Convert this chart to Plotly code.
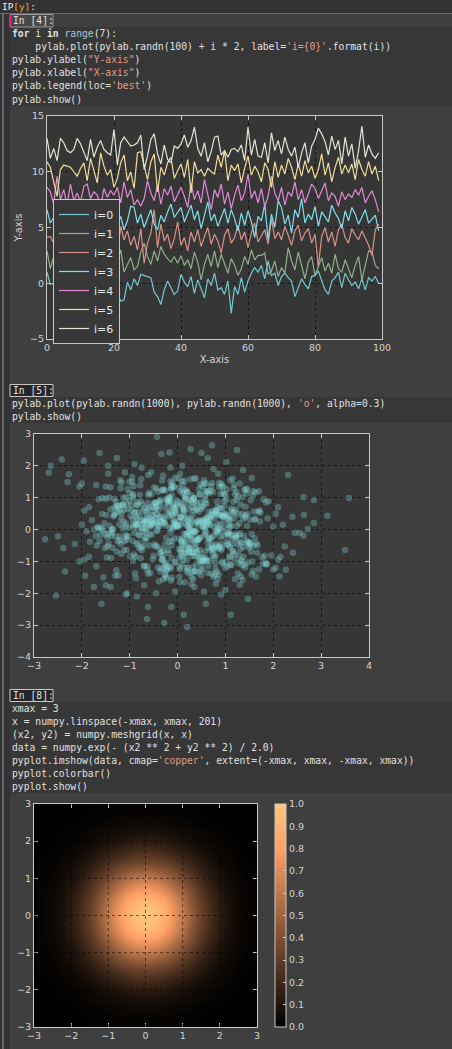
import plotly.graph_objects as go

W, H = 452, 1049

# ---------------- cell 1: seven noisy lines ----------------
line_labels = ['i=0', 'i=1', 'i=2', 'i=3', 'i=4', 'i=5', 'i=6']
line_colors = ['#74c8d0', '#8fb08a', '#d9918a', '#7ee0ea', '#e28ad6', '#f2dc9a', '#e4e4d4']

line_i0 = [1.0, -0.1, 0.0, 0.6, -0.8, 0.3, 1.2, -0.4, 0.5, -1.1,
           0.2, 0.9, -0.3, -1.4, 0.6, 0.1, -0.7, 1.5, 0.3, -0.5,
           0.8, -0.9, -1.6, -1.5, 0.1, -0.6, 0.4, -0.2, 0.8, 0.7,
           0.6, 0.5, -0.8, -1.2, -1.9, -0.6, 0.2, -0.4, -1.0, -0.7,
           0.8, 0.1, -0.3, 0.6, -0.9, 0.3, -0.5, -1.3, 0.4, -0.2,
           0.9, -0.6, -0.4, -1.0, 0.2, -2.7, -0.3, -1.0, 0.5, -0.8,
           0.2, 0.9, 1.4, 1.0, 1.6, 0.4, 2.0, 0.7, 0.9, -0.2,
           0.6, 0.9, 0.5, 0.2, -1.2, -0.3, 0.4, -0.1, -0.5, 0.6,
           0.7, 1.1, 0.3, -0.6, -1.0, 0.2, 0.5, 1.0, -0.4, 0.9,
           0.3, -0.2, 0.1, -0.5, 0.4, -0.6, 0.5, 0.2, 0.6, 0.0]
line_i1 = [2.9, 1.3, 2.4, 1.8, 3.1, 1.6, 2.2, 0.9, 2.7, 1.5,
           3.0, 2.1, 1.2, 2.6, 1.9, 0.8, 2.5, 3.3, 1.4, 0.6,
           1.1, 2.0, 3.0, 1.0, 1.6, 2.3, 1.2, 1.5, 2.8, 3.6,
           2.4, 1.7, 2.9, 2.0, 3.3, 2.6, 2.2, 1.9, 2.4, 1.8,
           2.5, 1.6, 2.1, 1.3, 2.8, 1.9, 0.3, 1.7, 2.6, 1.5,
           2.9, 1.4, 2.6, 1.8, 0.9, 2.2, 1.6, 0.7, 1.3, 2.4,
           1.7, 3.0, 2.1, 2.5, 2.5, 2.7, 0.8, 1.1, 2.0, 0.6,
           1.4, 0.9, 3.2, 2.0, 1.2, 2.8, 1.5, 0.4, 1.9, 2.4,
           0.7, 1.6, 2.3, 1.1, 1.8, 0.9, 2.6, 1.3, 1.0, 2.1,
           1.2, 0.5, 1.6, 2.4, 0.3, 1.7, 2.9, 2.8, 1.6, 1.3]
line_i2 = [4.1, 4.2, 3.6, 4.9, 3.3, 5.0, 2.8, 4.4, 3.7, 5.2,
           4.0, 3.1, 4.6, 3.8, 2.9, 4.5, 5.4, 3.5, 4.8, 3.2,
           4.3, 2.6, 5.1, 3.9, 4.7, 3.4, 4.2, 3.0, 4.9, 1.8,
           3.6, 4.5, 6.6, 3.2, 5.3, 3.8, 4.4, 3.1, 4.0, 5.5,
           3.4, 4.1, 2.9, 4.6, 3.7, 4.8, 3.3, 4.2, 5.0, 3.5,
           4.4, 3.8, 2.7, 4.3, 4.9, 3.6, 4.1, 5.2, 3.9, 4.6,
           3.2, 4.5, 5.4, 3.7, 4.2, 4.8, 3.5, 5.8, 4.0, 4.6,
           3.9, 5.1, 4.3, 3.4, 4.7, 5.2, 3.8, 4.5, 4.9, 3.6,
           4.4, 1.5, 4.2, 5.0, 3.7, 4.6, 3.3, 4.8, 5.3, 4.1,
           3.6, 4.9, 4.3, 3.9, 4.7, 4.0, 3.4, 2.5, 4.8, 5.3]
line_i3 = [6.6, 5.4, 5.9, 6.8, 5.1, 6.3, 7.2, 5.6, 6.1, 4.9,
           6.5, 5.8, 7.0, 6.2, 5.3, 6.9, 5.7, 4.6, 6.4, 5.9,
           6.7, 5.2, 6.0, 4.8, 5.6, 6.9, 6.8, 5.4, 6.2, 5.0,
           5.8, 6.6, 5.3, 4.8, 6.1, 5.5, 6.4, 7.1, 5.9, 6.3,
           6.8, 5.5, 6.2, 7.0, 5.7, 6.5, 4.9, 6.0, 7.3, 5.6,
           6.2, 5.1, 5.9, 6.7, 5.4, 6.6, 5.8, 4.7, 6.3, 5.2,
           6.5, 5.5, 4.1, 6.0, 5.6, 7.1, 3.9, 6.2, 5.0, 7.4,
           6.8, 5.3, 6.1, 4.5, 6.6, 5.9, 7.6, 5.4, 6.2, 5.7,
           6.9, 5.1, 6.4, 6.0, 5.5, 7.0, 6.3, 5.8, 4.9, 6.5,
           5.6, 6.8, 6.2, 5.3, 5.9, 6.6, 5.4, 5.8, 6.1, 4.7]
line_i4 = [8.6, 8.2, 7.1, 9.6, 7.5, 8.4, 7.0, 8.9, 7.4, 8.1,
           7.3, 8.7, 8.9, 7.6, 8.2, 7.9, 6.8, 8.5, 7.7, 8.3,
           7.9, 8.6, 7.2, 9.1, 7.7, 8.4, 7.0, 7.5, 6.9, 7.6,
           9.2, 8.1, 7.4, 8.8, 7.1, 8.5, 7.9, 8.7, 7.3, 8.0,
           8.6, 7.8, 6.8, 9.0, 7.5, 8.3, 7.2, 9.3, 8.0, 6.6,
           8.4, 7.7, 8.9, 7.1, 8.2, 6.7, 7.9, 8.8, 7.4, 8.1,
           9.8, 7.6, 8.3, 7.2, 8.5, 6.9, 7.8, 9.6, 8.1, 7.4,
           8.6, 7.0, 8.2, 7.8, 9.1, 7.5, 8.4, 7.2, 8.0, 8.9,
           8.5, 7.6, 8.3, 9.0, 7.4, 8.1, 7.8, 6.9, 8.2, 7.5,
           8.0, 7.7, 8.4, 7.9, 8.6, 7.2, 7.8, 8.3, 7.5, 6.4]
line_i5 = [10.9, 10.4, 9.1, 7.8, 10.2, 10.6, 10.5, 10.4, 10.0, 9.6,
           10.3, 10.8, 9.2, 11.2, 10.1, 9.0, 11.7, 10.5, 9.7, 10.2,
           8.6, 9.4, 10.8, 11.5, 9.2, 10.0, 8.5, 11.7, 11.8, 10.6,
           9.3, 10.9, 11.6, 8.2, 10.4, 9.7, 10.8, 11.3, 9.4, 10.1,
           10.7, 9.5, 11.1, 8.1, 10.9, 9.9, 10.2, 9.6, 10.3, 10.0,
           9.8, 11.5, 10.4, 11.9, 9.2, 10.6, 10.1, 10.7, 9.0, 10.3,
           11.4, 9.7, 10.5, 10.0, 9.1, 10.8, 10.2, 8.6, 10.9, 9.5,
           10.6, 9.8, 11.2, 10.4, 9.3, 10.7, 9.6, 11.0, 9.9, 10.5,
           9.4, 10.2, 11.6, 9.7, 10.8, 9.1, 10.4, 11.3, 9.8, 10.6,
           9.9, 10.7, 9.3, 11.1, 10.2, 9.6, 10.9, 9.8, 10.5, 9.2]
line_i6 = [13.0, 11.2, 12.1, 11.0, 13.0, 12.6, 11.9, 11.7, 12.0, 13.0,
           12.5, 11.8, 11.0, 12.9, 11.3, 12.2, 12.8, 12.0, 11.7, 11.5,
           13.8, 10.6, 12.6, 13.1, 12.7, 12.3, 12.4, 12.6, 13.3, 10.2,
           11.4, 12.9, 13.4, 11.6, 10.7, 12.4, 11.1, 10.8, 12.3, 12.1,
           12.5, 13.3, 12.2, 12.8, 14.0, 12.1, 11.4, 12.6, 10.9, 11.8,
           13.1, 13.2, 11.5, 11.9, 11.3, 12.0, 12.1, 11.8, 12.4, 11.0,
           14.0, 11.5, 12.9, 11.4, 11.3, 12.6, 10.8, 13.5, 11.9, 12.8,
           11.6, 13.1, 12.0, 11.4, 12.2, 10.4, 11.7, 12.6, 10.8, 12.3,
           12.9, 13.9, 13.4, 12.7, 11.5, 13.2, 12.0, 12.8, 10.7, 13.1,
           11.4, 12.5, 10.3, 11.9, 14.1, 11.3, 12.4, 11.6, 11.2, 11.7]
line_series = [line_i0, line_i1, line_i2, line_i3, line_i4, line_i5, line_i6]

# ---------------- cell 2: scatter cloud ----------------
tail_points = [
    (3.58, 0.99), (3.50, -0.64), (3.13, 0.43), (2.85, 0.93), (2.85, 0.21), (2.31, 1.71),
    (-2.77, -0.30), (-2.54, -2.07), (-2.69, 1.78), (-2.65, 2.0), (-2.42, 2.2), (-0.43, 2.91),
    (0.72, 2.65), (1.24, 2.5), (0.27, 2.53), (0.20, -3.06), (-0.28, -2.93), (1.11, -2.67),
    (-0.64, -2.81), (0.13, -2.67), (-2.35, -1.32), (-1.59, -2.33), (2.41, -0.73), (2.63, 1.02),
    (2.64, 0.46), (2.63, -0.19), (-2.5, -0.21), (-2.39, -0.58), (-2.3, 1.49), (-2.27, 1.74),
    (-1.63, 2.4), (-1.27, 2.25), (-1.96, 2.16), (-0.17, 2.42), (-0.34, 2.37), (0.5, 2.4),
    (0.63, 2.25), (1.02, 2.12), (1.37, 1.87), (1.55, 1.62), (-0.62, -2.43), (-0.13, -2.43),
    (0.59, -2.33), (1.47, -2.18), (-1.08, -2.04), (0.91, -2.04), (1.3, -1.73), (2.26, -1.26),
    (2.13, -1.47), (1.64, -1.47), (2.24, -0.53), (-2.05, 1.35), (-2.0, 1.45), (-1.95, 0.6),
    (-1.85, 0.7), (-2.0, 0.15), (-1.9, -0.05), (-2.05, -1.0), (-1.95, -0.95), (-1.7, -1.15),
    (-1.85, -0.85), (-1.55, -1.5), (-1.5, -1.75), (-1.75, -1.8), (-1.3, -1.45), (-1.05, -2.0),
    (-0.85, -2.1), (-0.45, -2.0), (-0.05, -1.95), (0.35, -1.8), (0.55, -1.95), (1.0, -1.9),
    (1.55, -1.4), (1.85, -1.1), (2.0, -1.25), (2.15, -0.85), (2.05, 0.5), (2.1, 0.7),
    (2.0, 0.1), (2.2, 0.15), (1.9, 0.9), (1.7, 1.2), (1.45, 1.25), (1.1, 1.55),
    (1.15, 1.6), (0.85, 1.75), (0.55, 1.55), (0.35, 1.6), (0.1, 2.0), (-0.15, 1.95),
    (-0.55, 1.8), (-0.9, 2.05), (-0.75, 1.95), (-1.1, 1.8), (-1.45, 1.75), (-1.5, 1.35),
    (-1.7, 1.4), (-1.65, 0.95), (-1.45, 2.0), (2.55, -0.1), (2.72, 0.02), (2.4, 0.4),
    (2.45, -0.1), (1.8, 0.95), (1.85, 0.85), (2.1, -0.95), (2.05, -1.2), (1.7, -1.25),
    (-1.2, 1.55), (-0.95, 1.65), (-0.3, 1.7), (0.05, 1.75), (0.75, 1.9), (1.3, 1.45),
    (-1.4, -1.8), (-0.7, -1.75), (0.15, -1.65), (0.8, -1.7), (1.2, -1.55), (-2.15, -0.45),
]

core_x = [
    -0.52, 0.31, 1.12, -1.04, 0.08, -0.27, 0.64, -1.58, 0.93, 0.15, -0.71, 1.46, -0.39, 0.22, -0.88, 0.57, 1.73, -0.13, -1.21, 0.41,
    0.79, -0.45, -0.02, 1.28, -0.96, 0.36, -1.67, 0.11, 0.68, -0.33, 1.05, -0.61, 0.25, -1.39, 0.87, -0.18, 0.49, 1.61, -0.84, 0.03,
    -1.12, 0.58, 0.19, -0.49, 1.37, -0.07, 0.72, -1.83, 0.34, -0.26, 0.95, -0.66, 1.19, 0.06, -1.47, 0.44, -0.12, 0.83, -0.94, 1.52,
    0.27, -0.79, 1.01, -0.31, 0.62, -1.26, 0.14, 1.88, -0.57, 0.38, -0.09, 0.76, -1.09, 0.51, 1.24, -0.43, 0.02, -0.72, 1.41, -0.21,
    -0.36, 0.91, -1.53, 0.17, 0.69, -0.82, 1.33, -0.04, 0.46, -1.17, 0.23, 1.09, -0.63, 0.84, -0.15, 1.67, -1.32, 0.33, -0.55, 0.12,
    1.15, -0.24, 0.52, -1.71, 0.09, 0.81, -0.47, 1.48, -0.92, 0.29, -0.11, 0.66, -1.36, 0.43, 1.96, -0.68, 0.18, -0.29, 1.02, -0.85,
    0.37, -1.01, 0.74, 0.05, -0.58, 1.26, -0.19, 0.55, -1.44, 0.98, 0.21, -0.75, 1.57, -0.34, 0.13, -1.06, 0.61, 1.18, -0.42, 0.88,
    -0.16, 0.47, -0.89, 1.35, 0.26, -1.29, 0.71, -0.05, 1.08, -0.64, 0.39, -1.93, 0.92, 0.16, -0.37, 1.63, -0.78, 0.54, 0.01, -1.14,
    0.63, 1.42, -0.28, 0.07, -1.19, 0.86, -0.53, 0.32, 1.77, -0.93, 0.45, -0.14, 1.13, -0.69, 0.28, -1.51, 0.77, -0.06, 0.59, 1.31,
    -0.74, 0.19, 1.22, -0.41, 0.67, -1.62, 0.35, -0.22, 0.97, 1.54, -0.87, 0.11, -0.48, 1.04, -1.23, 0.53, 0.24, -0.98, 1.39, -0.12,
    0.42, -1.34, 0.85, 0.04, -0.62, 1.17, -0.25, 0.73, -1.08, 0.31, 1.84, -0.46, 0.09, -0.81, 1.27, 0.58, -1.42, 0.16, -0.35, 0.94,
    -0.03, 0.82, -1.16, 0.48, 1.59, -0.55, 0.26, -0.91, 0.65, 1.11, -0.17, -1.74, 0.39, 0.87, -0.44, 1.36, 0.02, -0.67, 0.75, -1.27,
    1.06, -0.38, 0.14, -1.49, 0.57, 0.99, -0.08, 1.45, -0.76, 0.22, -0.32, 1.69, -1.03, 0.44, 0.71, -0.59, 1.23, -0.13, -0.95, 0.36,
    0.18, -0.71, 1.49, -0.23, 0.81, -1.37, 0.06, 0.63, -0.52, 1.19, -1.11, 0.34, 0.92, -0.27, 1.72, -0.86, 0.47, -0.04, 0.29, -1.58,
    -0.47, 1.03, 0.27, -0.99, 0.64, -0.16, 1.32, -1.22, 0.53, 0.08, -0.61, 1.56, -0.36, 0.78, -1.45, 0.21, 0.96, -0.73, 1.14, -0.09,
    0.55, -0.2, -1.13, 0.89, 0.32, -0.57, 1.25, -0.84, 0.15, 1.61, -0.31, 0.68, -1.66, 0.43, -0.06, 1.07, -0.93, 0.37, 0.74, -0.42,
    1.38, -0.65, 0.23, -1.28, 0.84, 0.01, -0.49, 1.16, -0.18, 0.59, -1.05, 1.87, -0.29, 0.46, -0.83, 0.12, 1.29, -1.4, 0.67, -0.11,
    -0.58, 0.93, -0.07, 1.21, -1.31, 0.38, 0.76, -0.24, 1.53, -0.89, 0.25, -0.45, 1.04, -1.79, 0.51, 0.18, -0.66, 1.42, -0.15, 0.83,
    0.11, -0.94, 0.62, 1.44, -0.35, 0.27, -1.2, 0.86, -0.03, 0.49, 1.13, -0.78, 0.33, -1.55, 0.97, -0.22, 0.58, -0.4, 1.65, 0.04,
    -1.07, 0.4, 0.89, -0.3, 1.18, -0.63, 0.07, -1.35, 0.72, 1.36, -0.12, 0.54, -0.87, 0.24, 1.09, -1.63, 0.45, -0.19, 0.8, -0.5,
    0.73, -0.14, 1.51, -0.77, 0.35, -1.12, 0.95, 0.1, -0.43, 1.27, -0.97, 0.61, 0.17, -0.32, 1.82, -0.69, 0.28, -1.24, 0.5, 1.02,
    -0.26, 0.66, -1.48, 0.03, 0.94, -0.54, 1.4, -0.1, 0.3, -0.8, 1.2, -1.38, 0.48, 0.85, -0.21, 0.14, -1.02, 1.58, -0.37, 0.69,
    0.2, 1.09, -0.6, 0.42, -1.57, 0.78, -0.05, 1.3, -0.92, 0.26, 0.63, -0.33, 1.71, -1.15, 0.09, 0.56, -0.7, 1.07, -0.02, -1.3,
    0.91, -0.39, 0.13, 1.47, -0.86, 0.31, -0.18, 0.79, -1.26, 1.0, 0.37, -0.64, 0.05, 1.24, -0.46, -1.69, 0.6, 0.22, -0.13, 1.33,
    -0.67, 0.16, 1.14, -0.28, 0.52, -1.04, 0.82, 0.28, -0.75, 1.55, -0.08, 0.45, -1.33, 0.71, 0.0, 1.12, -0.52, -0.95, 0.36, 0.88,
    0.47, -1.18, 0.58, 0.97, -0.15, 1.66, -0.6, 0.19, -0.38, 1.06, -1.46, 0.34, 0.8, -0.24, 0.13, -0.83, 1.43, 0.07, -1.09, 0.6,
    -0.34, 0.74, -0.9, 0.29, 1.34, -0.47, 0.04, -1.24, 0.87, 0.42, -0.16, 1.19, -0.73, 0.53, -1.52, 0.98, 0.23, -0.56, 1.6, -0.07,
    0.85, 0.12, -0.62, 1.05, -1.01, 0.39, 0.68, -0.31, 1.28, -0.11, -0.79, 0.57, 1.78, -0.44, 0.27, -1.19, 0.9, -0.02, 0.44, -0.86,
    -0.19, 1.23, 0.31, -0.7, 0.55, -1.4, 0.15, 1.1, -0.48, 0.76, -0.25, -1.08, 1.37, 0.06, -0.54, 0.83, 0.38, -1.28, 0.99, 0.2,
    0.64, -0.55, 1.39, -0.12, -0.93, 0.49, 0.22, -1.61, 0.79, 1.16, -0.35, 0.03, 0.92, -0.68, 1.52, -0.23, 0.41, -1.13, 0.1, 0.7,
    -0.83, 0.3, 0.65, -0.17, 1.08, -0.71, 0.48, 1.62, -1.17, 0.2, -0.41, 0.88, -0.05, 1.31, -0.94, 0.57, -1.36, 0.32, 0.75, -0.28,
    0.26, 1.46, -0.44, 0.61, -1.25, 0.08, 0.94, -0.63, 0.35, 1.22, -0.15, -0.88, 0.52, 1.04, -0.36, 0.17, -1.5, 0.82, -0.08, 0.46,
    -0.4, 0.56, 1.26, -1.06, 0.21, -0.3, 0.73, 1.45, -0.77, 0.1, 0.6, -1.21, 0.39, -0.13, 0.99, -0.59, 1.17, 0.29, -0.9, 0.05,
    1.03, -0.22, 0.4, -0.76, 1.58, -0.01, -1.14, 0.7, 0.19, -0.5, 1.35, -0.27, 0.86, -1.43, 0.54, 0.12, -0.65, 1.12, -0.33, 0.8,
    -0.09, 0.5, -1.32, 0.95, 0.32, -0.45, 1.2, -0.82, 0.63, 0.04, -0.23, 1.5, -1.0, 0.37, 0.78, -0.64, 0.25, 1.41, -0.39, -0.11,
    0.58, -0.85, 0.14, 1.32, -0.53, 0.69, -1.17, 0.43, 0.9, -0.26, 1.08, -0.72, 0.07, 0.62, -1.39, 0.34, -0.04, 0.97, -0.6, 0.24,
]
core_y = [
    0.44, -0.83, 0.12, 1.27, -0.35, 0.69, -1.14, 0.05, -0.58, 1.03, 0.27, -0.41, -1.62, 0.81, 0.18, -0.96, 0.53, 1.38, -0.22, -0.7,
    -1.05, 0.36, 0.92, -0.17, 0.61, -1.3, 0.09, 1.15, -0.64, 0.23, -0.47, 1.71, -0.08, -0.89, 0.47, 1.02, -1.43, 0.31, 0.76, -0.29,
    0.63, -0.12, -1.21, 0.84, -0.55, 0.17, 1.46, -0.38, 0.99, -1.07, 0.4, 0.02, -0.76, 1.2, -0.24, 0.57, -1.51, 0.88, 0.14, -0.43,
    -0.31, 1.09, 0.48, -0.93, 0.22, 0.75, -0.61, 0.35, -1.36, 0.66, 1.33, -0.19, 0.1, -1.0, 0.94, -0.52, 1.6, -0.07, 0.39, -1.18,
    0.85, -0.45, 0.2, -0.74, 1.22, 0.04, -0.98, 0.58, -0.27, 1.48, -0.63, 0.32, -1.26, 0.71, -0.09, -0.5, 0.97, -1.55, 0.26, 0.6,
    -0.67, 0.13, 1.36, -0.2, -1.09, 0.54, 0.82, -0.39, 0.07, -1.71, 0.45, 1.14, -0.57, 0.29, -0.81, 0.68, -0.14, 1.25, -1.02, 0.34,
    0.19, 1.5, -0.66, 0.38, -0.13, -1.38, 0.91, 0.26, -0.44, 0.73, -1.19, 0.06, 1.07, -0.71, 0.5, -0.32, -0.99, 1.29, 0.15, -0.54,
    1.01, -0.26, 0.55, -1.12, 0.11, 0.87, -0.48, 1.63, -0.84, 0.3, -0.02, -1.45, 0.67, 0.2, -0.6, 1.17, 0.41, -0.91, 0.08, 0.79,
    -0.4, 0.72, -1.24, 0.16, 1.3, -0.53, 0.46, -0.06, -0.87, 1.11, 0.24, -1.6, 0.59, -0.34, 0.93, -0.15, 0.37, -1.03, 1.45, -0.62,
    0.28, -0.95, 0.64, 1.19, -0.28, 0.03, -1.31, 0.5, 0.89, -0.7, 0.15, 1.4, -0.46, -1.16, 0.74, 0.1, -0.58, 0.43, -0.2, 1.06,
    -0.77, 0.42, 0.01, -1.48, 0.83, 0.35, 1.23, -0.6, 0.19, -0.33, -1.04, 0.66, 1.52, -0.16, 0.48, -0.89, 0.12, 0.95, -1.22, -0.05,
    0.52, -1.33, 0.79, 0.27, -0.5, 1.12, -0.18, -0.78, 0.38, -1.1, 0.61, 0.0, -0.42, 1.34, 0.22, -1.58, 0.86, -0.25, 0.47, -0.69,
    -0.11, 0.9, -0.73, 0.46, 1.05, -1.2, 0.3, -0.35, 1.58, 0.08, -0.92, 0.56, -0.2, 0.17, -1.39, 0.7, 1.18, -0.49, 0.33, -0.83,
    0.96, 0.21, -0.56, -1.28, 0.62, -0.1, 0.4, 1.21, -0.94, 0.55, -0.37, -0.06, 1.44, -1.13, 0.25, 0.78, -0.65, 0.14, -1.5, 0.49,
    -0.52, 1.26, 0.34, -0.84, -0.23, 0.9, -1.47, 0.16, 0.72, -0.41, 1.08, -1.0, 0.28, 0.59, -0.12, -0.75, 1.36, 0.05, -0.3, 0.83,
    0.11, -0.64, 1.0, 0.44, -1.19, 0.24, -0.45, 0.85, 1.53, -0.27, -0.8, 0.37, 0.06, -1.34, 0.67, -0.16, 0.98, -0.58, 1.19, -0.04,
    -0.85, 0.57, -0.21, 0.73, -1.55, 0.13, 1.32, -0.69, 0.42, -0.05, 0.8, -1.08, 0.36, 1.1, -0.43, -0.95, 0.2, 0.64, -0.31, 1.47,
    0.33, -1.01, 0.68, -0.15, 0.5, 1.6, -0.6, -0.26, 0.92, -1.37, 0.04, 0.71, -0.48, 0.29, -0.86, 1.24, -0.09, 0.45, -1.17, 0.18,
    0.7, -0.36, -0.97, 1.13, 0.25, -0.52, 0.6, -1.4, 0.09, 0.86, -0.18, 1.39, -0.72, -0.03, 0.51, -1.25, 0.95, 0.13, -0.44, -0.88,
    -0.23, 0.81, 0.15, -0.66, 1.41, -1.15, 0.39, 0.02, -0.54, 1.02, -0.9, 0.26, -1.53, 0.63, 0.08, -0.37, 1.27, -0.74, 0.54, 0.19,
    0.58, -1.22, 0.31, 0.89, -0.07, -0.63, 1.16, -0.29, 0.47, -1.06, 0.77, 0.12, -0.41, 1.54, -0.82, 0.22, -0.13, -1.44, 0.65, 0.94,
    -0.46, 0.18, -0.88, 1.31, 0.43, -0.17, -1.09, 0.74, 0.27, -0.59, 1.09, -0.02, -1.27, 0.49, 0.86, -0.34, 0.05, 1.21, -0.76, 0.3,
    1.17, -0.55, 0.07, -0.31, 0.99, -1.42, 0.52, -0.12, 1.36, -0.7, 0.23, -0.96, 0.6, 0.03, -0.47, 1.45, -1.16, 0.32, 0.76, -0.21,
    -0.64, 0.4, 1.23, -1.03, 0.16, 0.7, -0.38, -0.81, 0.54, 1.06, -0.24, 0.36, -1.65, 0.11, 0.83, -0.5, 0.29, -0.08, 1.3, -0.97,
    0.27, 1.03, -0.47, 0.2, -1.24, 0.64, 0.0, 0.91, -0.65, -0.14, 1.35, -0.87, 0.45, -0.26, 0.12, -1.11, 0.73, 1.49, -0.39, 0.06,
    -0.99, 0.35, 0.84, -0.2, 0.55, -0.73, 1.15, -1.3, 0.1, 0.44, -0.53, 0.97, -0.07, -1.51, 0.61, 0.2, 1.28, -0.62, -0.17, 0.8,
    0.41, -0.79, -0.11, 1.08, -0.42, 0.26, -1.18, 0.67, 1.47, -0.33, 0.05, -0.92, 0.79, 0.31, -0.58, 1.12, -1.36, 0.15, 0.57, -0.27,
    -0.04, 0.66, -1.39, 0.37, 0.91, -0.6, 0.14, 1.26, -0.8, 0.48, -0.19, 0.03, -1.07, 0.85, 1.58, -0.45, -0.23, 0.72, -0.93, 0.39,
    0.8, -0.24, 0.46, -1.13, 0.21, 1.33, -0.5, -0.86, 0.59, 0.09, -1.46, 1.0, 0.34, -0.68, 0.17, -0.1, 0.88, -1.28, 0.43, 1.19,
    -0.57, 0.12, 1.24, -0.35, -0.98, 0.73, 0.28, -0.16, -1.23, 0.51, 0.94, -0.61, 1.36, 0.07, -0.44, -1.05, 0.62, 0.25, -0.83, 0.48,
    0.17, -1.34, 0.55, 0.95, -0.09, -0.52, 1.42, 0.35, -0.77, 0.13, -1.19, 0.68, 0.24, -0.4, 1.07, -0.7, 0.01, 0.84, -1.48, 0.3,
    -0.71, 0.49, -0.03, 1.16, -0.37, 0.82, -1.06, 0.19, 0.6, -0.28, 1.52, -0.85, 0.09, -0.15, -1.32, 0.4, 0.97, -0.54, 0.23, 1.1,
    0.62, -0.19, 1.04, -0.64, 0.32, -1.57, 0.45, 0.11, -0.9, 0.76, 0.38, -0.33, -1.1, 1.28, 0.06, -0.49, 0.87, -0.02, 0.53, -1.24,
    -0.38, 0.93, 0.24, -0.55, -1.29, 0.14, 0.77, 1.37, -0.16, -0.82, 0.5, 0.21, -0.6, 1.01, -0.99, 0.35, -0.27, 0.66, 1.23, -0.46,
    0.08, -1.07, 0.68, 0.42, -0.72, 1.29, -0.21, 0.56, -1.36, 0.27, 0.96, -0.51, 1.15, -0.06, -0.88, 0.47, 0.18, -1.19, 0.74, 0.03,
    1.21, -0.47, -0.13, 0.79, 0.29, -0.96, 0.51, -0.32, 1.12, -1.41, 0.15, 0.6, -0.78, 0.36, -0.2, 0.99, -1.02, 0.25, 0.64, -0.59,
]

# ---------------- cell 3: gaussian image (values read on a 0.25 grid) ----------------
heat_coords = [-3.0, -2.75, -2.5, -2.25, -2.0, -1.75, -1.5, -1.25, -1.0, -0.75, -0.5, -0.25, 0.0,
               0.25, 0.5, 0.75, 1.0, 1.25, 1.5, 1.75, 2.0, 2.25, 2.5, 2.75, 3.0]
heat_z = [
    [0.00, 0.00, 0.00, 0.00, 0.00, 0.00, 0.00, 0.01, 0.01, 0.01, 0.01, 0.01, 0.01, 0.01, 0.01, 0.01, 0.01, 0.01, 0.00, 0.00, 0.00, 0.00, 0.00, 0.00, 0.00],
    [0.00, 0.00, 0.00, 0.00, 0.00, 0.00, 0.01, 0.01, 0.01, 0.02, 0.02, 0.02, 0.02, 0.02, 0.02, 0.02, 0.01, 0.01, 0.01, 0.00, 0.00, 0.00, 0.00, 0.00, 0.00],
    [0.00, 0.00, 0.00, 0.00, 0.01, 0.01, 0.01, 0.02, 0.03, 0.03, 0.04, 0.04, 0.04, 0.04, 0.04, 0.03, 0.03, 0.02, 0.01, 0.01, 0.01, 0.00, 0.00, 0.00, 0.00],
    [0.00, 0.00, 0.00, 0.01, 0.01, 0.02, 0.03, 0.04, 0.05, 0.06, 0.07, 0.08, 0.08, 0.08, 0.07, 0.06, 0.05, 0.04, 0.03, 0.02, 0.01, 0.01, 0.00, 0.00, 0.00],
    [0.00, 0.00, 0.01, 0.01, 0.02, 0.03, 0.04, 0.06, 0.08, 0.10, 0.12, 0.13, 0.14, 0.13, 0.12, 0.10, 0.08, 0.06, 0.04, 0.03, 0.02, 0.01, 0.01, 0.00, 0.00],
    [0.00, 0.00, 0.01, 0.02, 0.03, 0.05, 0.07, 0.10, 0.13, 0.16, 0.19, 0.21, 0.22, 0.21, 0.19, 0.16, 0.13, 0.10, 0.07, 0.05, 0.03, 0.02, 0.01, 0.00, 0.00],
    [0.00, 0.01, 0.01, 0.03, 0.04, 0.07, 0.11, 0.15, 0.20, 0.25, 0.29, 0.31, 0.32, 0.31, 0.29, 0.25, 0.20, 0.15, 0.11, 0.07, 0.04, 0.03, 0.01, 0.01, 0.00],
    [0.01, 0.01, 0.02, 0.04, 0.06, 0.10, 0.15, 0.21, 0.28, 0.35, 0.40, 0.44, 0.46, 0.44, 0.40, 0.35, 0.28, 0.21, 0.15, 0.10, 0.06, 0.04, 0.02, 0.01, 0.01],
    [0.01, 0.01, 0.03, 0.05, 0.08, 0.13, 0.20, 0.28, 0.37, 0.46, 0.54, 0.59, 0.61, 0.59, 0.54, 0.46, 0.37, 0.28, 0.20, 0.13, 0.08, 0.05, 0.03, 0.01, 0.01],
    [0.01, 0.02, 0.03, 0.06, 0.10, 0.16, 0.25, 0.35, 0.46, 0.57, 0.67, 0.73, 0.75, 0.73, 0.67, 0.57, 0.46, 0.35, 0.25, 0.16, 0.10, 0.06, 0.03, 0.02, 0.01],
    [0.01, 0.02, 0.04, 0.07, 0.12, 0.19, 0.29, 0.40, 0.54, 0.67, 0.78, 0.86, 0.88, 0.86, 0.78, 0.67, 0.54, 0.40, 0.29, 0.19, 0.12, 0.07, 0.04, 0.02, 0.01],
    [0.01, 0.02, 0.04, 0.08, 0.13, 0.21, 0.31, 0.44, 0.59, 0.73, 0.86, 0.94, 0.97, 0.94, 0.86, 0.73, 0.59, 0.44, 0.31, 0.21, 0.13, 0.08, 0.04, 0.02, 0.01],
    [0.01, 0.02, 0.04, 0.08, 0.14, 0.22, 0.32, 0.46, 0.61, 0.75, 0.88, 0.97, 1.00, 0.97, 0.88, 0.75, 0.61, 0.46, 0.32, 0.22, 0.14, 0.08, 0.04, 0.02, 0.01],
    [0.01, 0.02, 0.04, 0.08, 0.13, 0.21, 0.31, 0.44, 0.59, 0.73, 0.86, 0.94, 0.97, 0.94, 0.86, 0.73, 0.59, 0.44, 0.31, 0.21, 0.13, 0.08, 0.04, 0.02, 0.01],
    [0.01, 0.02, 0.04, 0.07, 0.12, 0.19, 0.29, 0.40, 0.54, 0.67, 0.78, 0.86, 0.88, 0.86, 0.78, 0.67, 0.54, 0.40, 0.29, 0.19, 0.12, 0.07, 0.04, 0.02, 0.01],
    [0.01, 0.02, 0.03, 0.06, 0.10, 0.16, 0.25, 0.35, 0.46, 0.57, 0.67, 0.73, 0.75, 0.73, 0.67, 0.57, 0.46, 0.35, 0.25, 0.16, 0.10, 0.06, 0.03, 0.02, 0.01],
    [0.01, 0.01, 0.03, 0.05, 0.08, 0.13, 0.20, 0.28, 0.37, 0.46, 0.54, 0.59, 0.61, 0.59, 0.54, 0.46, 0.37, 0.28, 0.20, 0.13, 0.08, 0.05, 0.03, 0.01, 0.01],
    [0.01, 0.01, 0.02, 0.04, 0.06, 0.10, 0.15, 0.21, 0.28, 0.35, 0.40, 0.44, 0.46, 0.44, 0.40, 0.35, 0.28, 0.21, 0.15, 0.10, 0.06, 0.04, 0.02, 0.01, 0.01],
    [0.00, 0.01, 0.01, 0.03, 0.04, 0.07, 0.11, 0.15, 0.20, 0.25, 0.29, 0.31, 0.32, 0.31, 0.29, 0.25, 0.20, 0.15, 0.11, 0.07, 0.04, 0.03, 0.01, 0.01, 0.00],
    [0.00, 0.00, 0.01, 0.02, 0.03, 0.05, 0.07, 0.10, 0.13, 0.16, 0.19, 0.21, 0.22, 0.21, 0.19, 0.16, 0.13, 0.10, 0.07, 0.05, 0.03, 0.02, 0.01, 0.00, 0.00],
    [0.00, 0.00, 0.01, 0.01, 0.02, 0.03, 0.04, 0.06, 0.08, 0.10, 0.12, 0.13, 0.14, 0.13, 0.12, 0.10, 0.08, 0.06, 0.04, 0.03, 0.02, 0.01, 0.01, 0.00, 0.00],
    [0.00, 0.00, 0.00, 0.01, 0.01, 0.02, 0.03, 0.04, 0.05, 0.06, 0.07, 0.08, 0.08, 0.08, 0.07, 0.06, 0.05, 0.04, 0.03, 0.02, 0.01, 0.01, 0.00, 0.00, 0.00],
    [0.00, 0.00, 0.00, 0.00, 0.01, 0.01, 0.01, 0.02, 0.03, 0.03, 0.04, 0.04, 0.04, 0.04, 0.04, 0.03, 0.03, 0.02, 0.01, 0.01, 0.01, 0.00, 0.00, 0.00, 0.00],
    [0.00, 0.00, 0.00, 0.00, 0.00, 0.00, 0.01, 0.01, 0.01, 0.02, 0.02, 0.02, 0.02, 0.02, 0.02, 0.02, 0.01, 0.01, 0.01, 0.00, 0.00, 0.00, 0.00, 0.00, 0.00],
    [0.00, 0.00, 0.00, 0.00, 0.00, 0.00, 0.00, 0.01, 0.01, 0.01, 0.01, 0.01, 0.01, 0.01, 0.01, 0.01, 0.01, 0.01, 0.00, 0.00, 0.00, 0.00, 0.00, 0.00, 0.00],
]
heat_grid = [-2, -1, 0, 1, 2]
copper = [[0.0, 'rgb(0,0,0)'], [0.8, 'rgb(255,159,101)'], [1.0, 'rgb(255,199,127)']]

# ---------------- code cells (text shown in the console) ----------------
S = '<span style="color:#e39d86">'   # string literal colour
B = '<span style="color:#a9c6dc">'   # builtin colour
E = '</span>'
NB = '\u00a0'
cell4_code = [
    '<b>for</b> i <b>in</b> ' + B + 'range' + E + '(7):',
    NB * 4 + 'pylab.plot(pylab.randn(100) + i * 2, label=' + S + "'i={0}'" + E + '.format(i))',
    'pylab.ylabel(' + S + '"Y-axis"' + E + ')',
    'pylab.xlabel(' + S + '"X-axis"' + E + ')',
    'pylab.legend(loc=' + S + "'best'" + E + ')',
    'pylab.show()',
]
cell5_code = [
    'pylab.plot(pylab.randn(1000), pylab.randn(1000), ' + S + "'o'" + E + ', alpha=0.3)',
    'pylab.show()',
]
cell8_code = [
    'xmax = 3',
    'x = numpy.linspace(-xmax, xmax, 201)',
    '(x2, y2) = numpy.meshgrid(x, x)',
    'data = numpy.exp(- (x2 ** 2 + y2 ** 2) / 2.0)',
    'pyplot.imshow(data, cmap=' + S + "'copper'" + E + ', extent=(-xmax, xmax, -xmax, xmax))',
    'pyplot.colorbar()',
    'pyplot.show()',
]

PAGE = '#3f3f3f'
CODE_BG = '#373737'
AX_BG = '#363636'
FG = '#d4d4d4'
MONO = 'DejaVu Sans Mono'


def fx(px):
    return px / W


def fy(py):
    return 1 - py / H


fig = go.Figure()

for label, ys, col in zip(line_labels, line_series, line_colors):
    fig.add_trace(go.Scatter(x=list(range(len(ys))), y=ys, mode='lines', name=label,
                             line=dict(color=col, width=1.2), xaxis='x', yaxis='y',
                             hoverinfo='skip'))

sc_x = [p[0] for p in tail_points] + core_x
sc_y = [p[1] for p in tail_points] + core_y
n = min(len(sc_x), len(sc_y))
fig.add_trace(go.Scatter(x=sc_x[:n], y=sc_y[:n], mode='markers', showlegend=False,
                         marker=dict(size=6.5, color='#86dcdc', opacity=0.32, line=dict(width=0)),
                         xaxis='x2', yaxis='y2', hoverinfo='skip'))

fig.add_trace(go.Heatmap(x=heat_coords, y=heat_coords, z=heat_z, colorscale=copper,
                         zmin=0, zmax=1, zsmooth='best', xaxis='x3', yaxis='y3',
                         hoverinfo='skip',
                         colorbar=dict(x=fx(275), xanchor='left', y=(fy(804) + fy(1027)) / 2,
                                       yanchor='middle', len=223 / H, lenmode='fraction',
                                       thickness=11, thicknessmode='pixels', xpad=0, ypad=0,
                                       outlinecolor='#c8c8c8', outlinewidth=1,
                                       ticks='inside', ticklen=3, tickcolor='#c8c8c8',
                                       tick0=0, dtick=0.1, tickformat='.1f',
                                       tickfont=dict(family='DejaVu Sans', size=9.5, color=FG))))

tick_font = dict(family='DejaVu Sans', size=9.5, color=FG)


def axis(domain, rng, dtick, anchor, grid=True, **kw):
    d = dict(domain=domain, range=rng, dtick=dtick, anchor=anchor,
             showline=True, linecolor='#c8c8c8', linewidth=1, mirror='ticks',
             ticks='inside', ticklen=4, tickwidth=1, tickcolor='#c8c8c8',
             showgrid=grid, gridcolor='#161616', griddash='dot', gridwidth=1,
             zeroline=False, tickfont=tick_font, automargin=False, fixedrange=True)
    d.update(kw)
    return d


title_font = dict(family='DejaVu Sans', size=9.8, color=FG)

fig.update_layout(
    width=W, height=H, autosize=False,
    margin=dict(l=0, r=0, t=0, b=0),
    paper_bgcolor=PAGE, plot_bgcolor=AX_BG,
    xaxis=axis([fx(47), fx(382)], [0, 100], 20, 'y',
               title=dict(text='X-axis', font=title_font, standoff=3)),
    yaxis=axis([fy(339), fy(116)], [-5, 15], 5, 'x',
               title=dict(text='Y-axis', font=title_font, standoff=5)),
    xaxis2=axis([fx(34), fx(369)], [-3, 4], 1, 'y2'),
    yaxis2=axis([fy(657), fy(434)], [-4, 3], 1, 'x2'),
    xaxis3=axis([fx(34), fx(257)], [-3, 3], 1, 'y3', grid=False),
    yaxis3=axis([fy(1027), fy(804)], [-3, 3], 1, 'x3', grid=False),
    legend=dict(x=fx(53), y=fy(199), xanchor='left', yanchor='top',
                bgcolor='#383838', bordercolor='#c8c8c8', borderwidth=1,
                font=dict(family='DejaVu Sans', size=11, color='#e6e6e6'),
                tracegroupgap=0, itemwidth=30),
    showlegend=True,
)

shapes = []


def rect(x0, y0, x1, y1, fill, line=None, lw=0):
    shapes.append(dict(type='rect', xref='paper', yref='paper', x0=fx(x0), x1=fx(x1),
                       y0=fy(y1), y1=fy(y0), fillcolor=fill, layer='below',
                       line=dict(color=line or fill, width=lw)))


# page chrome
rect(0, 0, 452, 13.5, '#323232')
rect(0, 13.5, 10, 1049, '#333333')
shapes.append(dict(type='line', xref='paper', yref='paper', x0=0, x1=1, y0=fy(13.5), y1=fy(13.5),
                   line=dict(color='#6a6a6a', width=1), layer='below'))
shapes.append(dict(type='line', xref='paper', yref='paper', x0=fx(3), x1=fx(3), y0=0, y1=fy(13.5),
                   line=dict(color='#9a9a9a', width=1), layer='below'))
# code bands
rect(10, 27, 452, 106, CODE_BG)
rect(10, 397, 452, 423, CODE_BG)
rect(10, 702, 452, 793, CODE_BG)
# prompts
rect(10, 14.5, 53, 27, '#474747', '#9a9a9a', 1)
rect(10, 14.5, 11.5, 27, '#e0208a')
rect(10, 384.5, 53, 396.5, '#262626', '#c8c8c8', 1)
rect(10, 689.5, 53, 701.5, '#262626', '#c8c8c8', 1)

# dotted grid drawn over the image
for v in heat_grid:
    shapes.append(dict(type='line', xref='x3', yref='y3', x0=v, x1=v, y0=-3, y1=3,
                       line=dict(color='rgba(0,0,0,0.55)', width=1, dash='dot'), layer='above'))
    shapes.append(dict(type='line', xref='x3', yref='y3', x0=-3, x1=3, y0=v, y1=v,
                       line=dict(color='rgba(0,0,0,0.55)', width=1, dash='dot'), layer='above'))

annotations = []


def text_at(txt, px, py, size=9.7, color='#e0e0e0'):
    annotations.append(dict(text=txt, xref='paper', yref='paper', x=fx(px), y=fy(py),
                            xanchor='left', yanchor='middle', showarrow=False,
                            font=dict(family=MONO, size=size, color=color)))


text_at('IP<span style="color:#f0a030">[y]</span>:', 0, 6.5, size=9.4, color='#f0f0f0')
text_at('In [4]:', 11, 20.8)
text_at('In [5]:', 11, 390.5)
text_at('In [8]:', 11, 695.5)

for k, line in enumerate(cell4_code):
    text_at(line, 10, 33.3 + 13.15 * k)
for k, line in enumerate(cell5_code):
    text_at(line, 10, 403.3 + 13.3 * k)
for k, line in enumerate(cell8_code):
    text_at(line, 10, 708.3 + 13.1 * k)

fig.update_layout(shapes=shapes, annotations=annotations)

# the page body has a default 8px margin; drop it so the figure fills the window
fig.write_html("out.html", config={'displayModeBar': False},
               post_script="document.body.style.margin='0';"
                           "document.body.style.background='#3f3f3f';")
